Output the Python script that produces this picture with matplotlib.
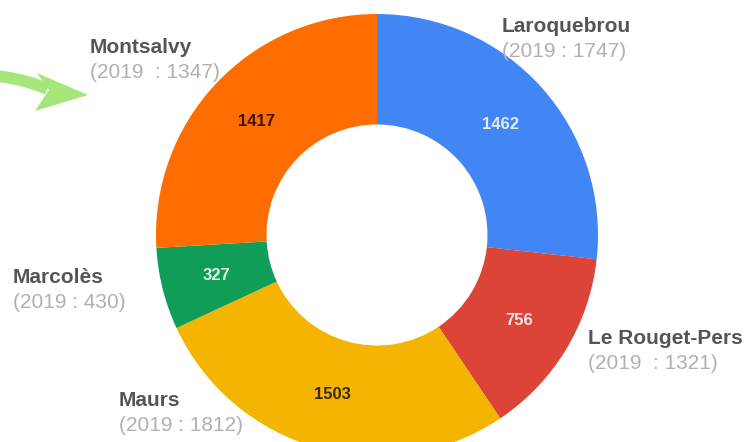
import numpy as np
import matplotlib
matplotlib.use("Agg")
import matplotlib.pyplot as plt
from matplotlib.patches import Polygon, FancyArrowPatch

# Commune populations (current) and 2019 reference values
communes = ["Laroquebrou", "Le Rouget-Pers", "Maurs", "Marcolès", "Montsalvy"]
values = [1462, 756, 1503, 327, 1417]
values_2019 = ["1747", "1321", "1812", "430", "1347"]
separators = [" : ", "  : ", " : ", " : ", "  : "]
colors = ["#4285F4", "#DB4437", "#F4B400", "#0F9D58", "#FF6D01"]
value_colors = ["#e4ecff", "#ffe6e2", "#3a2a00", "#e2f3e6", "#3b1300"]

W, H = 746, 442
fig = plt.figure(figsize=(W / 100, H / 100), dpi=100)
fig.patch.set_facecolor("white")

# donut axes: centre (377, 235) px, outer radius 221 px
cx, cy, R = 377, 235, 221
ax = fig.add_axes([(cx - R) / W, 1 - (cy + R) / H, 2 * R / W, 2 * R / H])
ax.set_axis_off()
wedges, _ = ax.pie(values, colors=colors, startangle=90, counterclock=False,
                   radius=1.0, wedgeprops=dict(width=0.5, linewidth=0))
ax.set_xlim(-1, 1)
ax.set_ylim(-1, 1)

for w, v, c in zip(wedges, values, value_colors):
    ang = np.deg2rad((w.theta1 + w.theta2) / 2)
    ax.text(0.75 * np.cos(ang), 0.75 * np.sin(ang), str(v), ha="center",
            va="center", fontsize=12, fontweight="bold", color=c,
            family=["Liberation Sans", "DejaVu Sans"])

# outer labels (left edge x, baseline y of the name line, in px)
label_pos = [(502, 32), (588, 344), (119, 406), (13, 283), (90, 53)]
for name, y19, sep, (lx, ly) in zip(communes, values_2019, separators, label_pos):
    fig.text(lx / W, 1 - ly / H, name, ha="left", va="baseline",
             fontsize=15, fontweight="bold", color="#555555",
             family=["Liberation Sans", "DejaVu Sans"])
    fig.text(lx / W, 1 - (ly + 25) / H, "(2019" + sep + y19 + ")", ha="left",
             va="baseline", fontsize=15, color="#b0b0b0",
             family=["Liberation Sans", "DejaVu Sans"])

# green pointer arrow towards Montsalvy
def fp(x, y):
    return (x / W, 1 - y / H)

shaft = FancyArrowPatch(fp(-4, 76), fp(50, 90), transform=fig.transFigure,
                        arrowstyle="-", connectionstyle="arc3,rad=-0.08",
                        linewidth=8.5, color="#a6e57a", capstyle="butt")
fig.add_artist(shaft)
head = Polygon([fp(88, 95), fp(37, 73), fp(49, 90), fp(35, 111)], closed=True,
               transform=fig.transFigure, facecolor="#a6e57a", edgecolor="none")
fig.add_artist(head)

fig.savefig("out.png", dpi=100, facecolor="white")
